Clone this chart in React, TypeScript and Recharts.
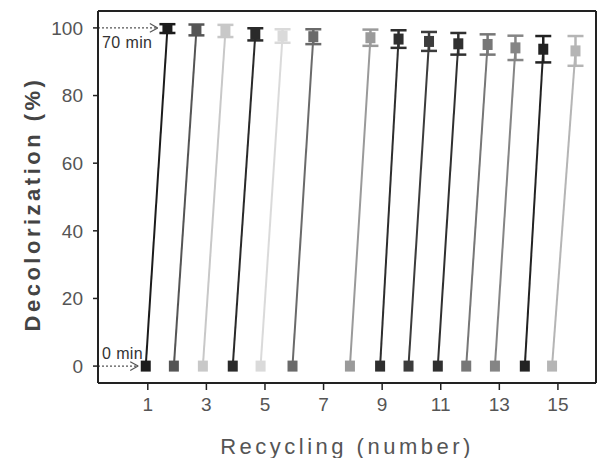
import React from 'react';
import {
  ComposedChart,
  Scatter,
  XAxis,
  YAxis,
  ErrorBar,
  ReferenceLine,
  ReferenceDot,
} from 'recharts';

const cycles = [1, 2, 3, 4, 5, 6, 8, 9, 10, 11, 12, 13, 14, 15];
const startX = [0.93, 1.89, 2.88, 3.9, 4.85, 5.94, 7.9, 8.93, 9.9, 10.9, 11.87, 12.85, 13.87, 14.8];
const endX = [1.67, 2.66, 3.65, 4.67, 5.6, 6.65, 8.6, 9.56, 10.6, 11.6, 12.6, 13.55, 14.5, 15.6];
const startY = [0, 0, 0, 0, 0, 0, 0, 0, 0, 0, 0, 0, 0, 0];
const endY = [99.8, 99.4, 99.1, 98.1, 97.6, 97.4, 97.1, 96.7, 96.0, 95.3, 95.1, 94.1, 93.7, 93.2];
const errY = [1.3, 1.6, 1.8, 1.8, 2.0, 2.2, 2.4, 2.6, 2.8, 3.2, 3.0, 3.6, 3.9, 4.4];
const colors = [
  '#1c1c1c', '#555555', '#c8c8c8', '#2a2a2a', '#dadada', '#6a6a6a', '#9a9a9a',
  '#2e2e2e', '#3c3c3c', '#303030', '#777777', '#858585', '#222222', '#b5b5b5',
];

const xTicks = [1, 3, 5, 7, 9, 11, 13, 15];
const yTicks = [0, 20, 40, 60, 80, 100];
const yMinorTicks = [10, 30, 50, 70, 90];

const FONT = '"Liberation Sans", Arial, sans-serif';

const SquareShape = (props: any) => {
  const { cx, cy, fill } = props;
  if (cx == null || cy == null) return <g />;
  return <rect x={cx - 5} y={cy - 5.5} width={10} height={11} fill={fill} />;
};

const EmptyShape = () => <g />;

const YLabel = (props: any) => {
  const vb = props.viewBox || {};
  const x = vb.x + 32;
  const y = vb.y + vb.height / 2 + 7;
  return (
    <text
      x={x}
      y={y}
      transform={`rotate(-90, ${x}, ${y})`}
      textAnchor="middle"
      dominantBaseline="central"
      fontFamily={FONT}
      fontSize={22}
      fontWeight="bold"
      letterSpacing={3.5}
      fill="#444"
    >
      Decolorization (%)
    </text>
  );
};

const makeNote = (text: string) => (props: any) => {
  const vb = props.viewBox || {};
  const x = (vb.x ?? 0) + 4;
  const y = (vb.y ?? 0) + (vb.height ?? 0) / 2;
  return (
    <text
      x={x}
      y={y}
      dominantBaseline="central"
      fontFamily={FONT}
      fontSize={16}
      letterSpacing={0.4}
      fill="#333"
    >
      {text}
    </text>
  );
};

export default function App() {
  return (
    <div style={{ position: 'absolute', left: 0, top: 0, width: 598, height: 458, background: '#fff' }}>
      <ComposedChart
        width={598}
        height={458}
        margin={{ top: 11, right: 2, bottom: 0, left: 0 }}
        style={{ fontFamily: FONT }}
      >
        <XAxis
          type="number"
          dataKey="x"
          domain={[-0.7, 16.3]}
          ticks={xTicks}
          allowDataOverflow
          height={75}
          tickSize={7}
          tickMargin={8}
          axisLine={{ stroke: '#222', strokeWidth: 2 }}
          tickLine={{ stroke: '#222', strokeWidth: 1.5 }}
          tick={{ fill: '#555', fontSize: 19, fontFamily: FONT }}
          label={{
            value: 'Recycling (number)',
            position: 'insideBottom',
            offset: 4,
            fill: '#555',
            fontSize: 22,
            fontFamily: FONT,
            letterSpacing: 3.5,
          }}
        />
        <YAxis
          yAxisId="minor"
          type="number"
          dataKey="y"
          domain={[-5, 105]}
          ticks={yMinorTicks}
          allowDataOverflow
          width={0}
          tickSize={3}
          axisLine={false}
          tick={false}
          tickLine={{ stroke: '#222', strokeWidth: 1.5 }}
        />
        <YAxis
          type="number"
          dataKey="y"
          domain={[-5, 105]}
          ticks={yTicks}
          allowDataOverflow
          width={98}
          tickSize={5}
          tickMargin={10}
          axisLine={{ stroke: '#222', strokeWidth: 2 }}
          tickLine={{ stroke: '#222', strokeWidth: 1.5 }}
          tick={{ fill: '#555', fontSize: 19, fontFamily: FONT }}
          label={<YLabel />}
        />

        <ReferenceLine y={105} stroke="#222" strokeWidth={2} />
        <ReferenceLine x={16.3} stroke="#222" strokeWidth={2} />

        {cycles.map((c, i) => (
          <Scatter
            key={`err-${c}`}
            data={[{ x: endX[i], y: endY[i], err: errY[i] }]}
            fill={colors[i]}
            shape={EmptyShape}
            isAnimationActive={false}
          >
            <ErrorBar dataKey="err" direction="y" width={8} stroke={colors[i]} strokeWidth={2.5} />
          </Scatter>
        ))}
        {cycles.map((c, i) => (
          <Scatter
            key={`cyc-${c}`}
            data={[
              { x: startX[i], y: startY[i] },
              { x: endX[i], y: endY[i] },
            ]}
            fill={colors[i]}
            line={{ stroke: colors[i], strokeWidth: 2 }}
            lineType="joint"
            shape={SquareShape}
            isAnimationActive={false}
          />
        ))}

        <ReferenceLine
          segment={[{ x: -0.7, y: 100 }, { x: 1.34, y: 100 }]}
          stroke="#555"
          strokeDasharray="2 2"
          strokeWidth={1.2}
        />
        <ReferenceLine segment={[{ x: 1.07, y: 101.3 }, { x: 1.34, y: 100 }]} stroke="#555" strokeWidth={1.2} />
        <ReferenceLine segment={[{ x: 1.07, y: 98.7 }, { x: 1.34, y: 100 }]} stroke="#555" strokeWidth={1.2} />
        <ReferenceLine
          segment={[{ x: -0.7, y: 0 }, { x: 0.67, y: 0 }]}
          stroke="#555"
          strokeDasharray="2 2"
          strokeWidth={1.2}
        />
        <ReferenceLine segment={[{ x: 0.4, y: 1.3 }, { x: 0.67, y: 0 }]} stroke="#555" strokeWidth={1.2} />
        <ReferenceLine segment={[{ x: 0.4, y: -1.3 }, { x: 0.67, y: 0 }]} stroke="#555" strokeWidth={1.2} />

        <ReferenceDot x={-0.7} y={95.6} r={0} stroke="none" fill="none" label={makeNote('70 min')} />
        <ReferenceDot x={-0.7} y={3.8} r={0} stroke="none" fill="none" label={makeNote('0 min')} />
      </ComposedChart>
    </div>
  );
}
